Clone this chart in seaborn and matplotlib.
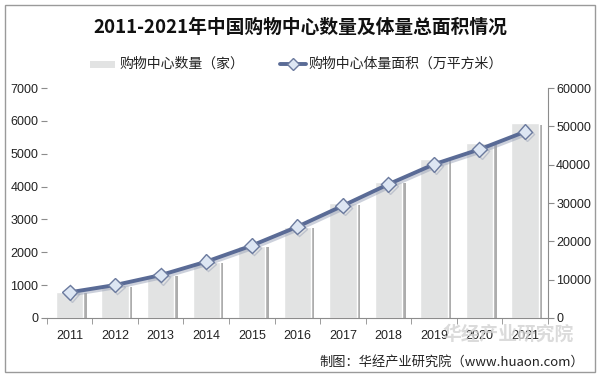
import numpy as np
import matplotlib
matplotlib.use('Agg')
import matplotlib.pyplot as plt
import matplotlib.patheffects as pe
from matplotlib.patches import Rectangle
import seaborn as sns
import pandas as pd

years = ['2011', '2012', '2013', '2014', '2015', '2016', '2017', '2018', '2019', '2020', '2021']
mall_count = [790, 1000, 1310, 1710, 2200, 2780, 3490, 4150, 4830, 5320, 5925]
mall_area = [6700, 8600, 11200, 14700, 18900, 23800, 29300, 34900, 40100, 44000, 48600]

bar_label = '购物中心数量（家）'
line_label = '购物中心体量面积（万平方米）'
title = '2011-2021年中国购物中心数量及体量总面积情况'

sns.set_style('white')
plt.rcParams['font.family'] = ['Liberation Sans', 'Noto Sans CJK SC', 'DejaVu Sans']
cjk = ['Noto Sans CJK SC', 'DejaVu Sans']

df = pd.DataFrame({'year': years, 'count': mall_count, 'area': mall_area})

fig = plt.figure(figsize=(6, 3.77), dpi=100)
ax = fig.add_axes([0.078, 0.1565, 0.835, 0.61])

sns.barplot(data=df, x='year', y='count', color='#e2e3e3', width=0.6,
            saturation=1, ax=ax, zorder=2)
for p in ax.patches:
    p.set_path_effects([pe.SimplePatchShadow(offset=(2.5, -1), shadow_rgbFace='#8a8a8a', alpha=0.7),
                        pe.Normal()])

ax.set_ylim(0, 7000)
ax.set_yticks(np.arange(0, 7001, 1000))
ax.set_xlim(-0.5, len(years) - 0.5)
ax.set_xlabel('')
ax.set_ylabel('')

ax2 = ax.twinx()
sns.pointplot(data=df, x='year', y='area', ax=ax2, color='#5a6b96', markers='D',
              linestyles='-', linewidth=2.8, markersize=7.5,
              markerfacecolor='#dde6f3', markeredgecolor='#6b7a9e', markeredgewidth=1.0,
              path_effects=[pe.SimpleLineShadow(offset=(1.5, -1.5), shadow_color='#9aa3b8', alpha=0.5),
                            pe.Normal()])
ax2.set_ylim(0, 60000)
ax2.set_yticks(np.arange(0, 60001, 10000))
ax2.set_xlim(-0.5, len(years) - 0.5)
ax2.set_ylabel('')
ax2.set_xlabel('')

for a in (ax, ax2):
    for s in a.spines.values():
        s.set_visible(False)
ax.spines['bottom'].set_visible(True)
ax.spines['bottom'].set_color('#8c8c8c')
ax2.spines['right'].set_visible(True)
ax2.spines['right'].set_color('#8c8c8c')

ax.tick_params(axis='y', left=True, length=4, color='#8c8c8c', labelsize=9, labelcolor='#222222', pad=2)
ax2.tick_params(axis='y', right=True, length=4, color='#8c8c8c', labelsize=9, labelcolor='#222222', pad=2)
ax.tick_params(axis='x', bottom=False, labelsize=9, labelcolor='#222222', pad=5)
ax.set_xticks(np.arange(-0.5, len(years)), minor=True)
ax.tick_params(axis='x', which='minor', bottom=True, length=4, color='#8c8c8c')

# title and legend
fig.text(0.5, 1 - 27 / 377, title, ha='center', va='center', fontsize=13.5, fontweight='bold',
         family=cjk, color='#111111')
ly = 1 - 64 / 377
fig.patches.append(Rectangle((90 / 600, ly - 3.5 / 377), 25 / 600, 7 / 377, transform=fig.transFigure,
                             facecolor='#e2e3e3', edgecolor='none'))
fig.text(119 / 600, ly, bar_label, ha='left', va='center', fontsize=10, family=cjk, color='#222222')
fig.lines.append(plt.Line2D([280 / 600, 306 / 600], [ly, ly], transform=fig.transFigure,
                            color='#5a6b96', linewidth=2.8))
fig.lines.append(plt.Line2D([293 / 600], [ly], transform=fig.transFigure, marker='D',
                            markersize=6, markerfacecolor='#dde6f3', markeredgecolor='#6b7a9e', linestyle='none'))
fig.text(308 / 600, ly, line_label, ha='left', va='center', fontsize=10, family=cjk, color='#222222')

# watermark and source
fig.text(508 / 600, 1 - 334 / 377, '华经产业研究院', ha='center', va='center', fontsize=13.5,
         fontweight='bold', family=cjk, color='#d2d2d2', alpha=0.8)
fig.text(584 / 600, 1 - 362 / 377, '制图：华经产业研究院（www.huaon.com）', ha='right', va='center',
         fontsize=9.5, family=cjk, color='#222222')

fig.patches.append(Rectangle((5 / 600, 5 / 377), 590 / 600, 367 / 377, transform=fig.transFigure,
                             facecolor='none', edgecolor='#9a9a9a', linewidth=1))

fig.savefig('out.png', dpi=100)
